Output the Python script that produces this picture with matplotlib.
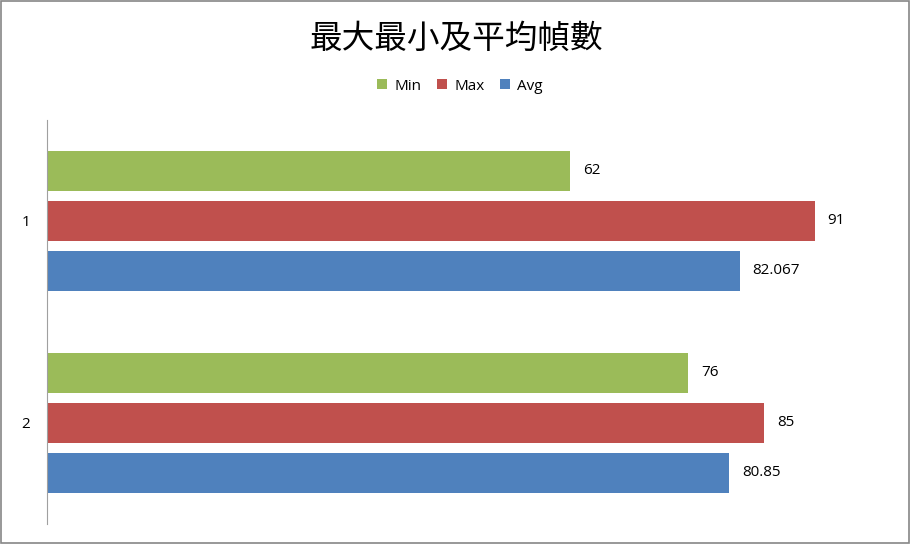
import numpy as np
import matplotlib.pyplot as plt
from matplotlib.patches import Rectangle

plt.rcParams['font.family'] = ['Open Sans', 'Noto Sans CJK TC', 'DejaVu Sans']

categories = ['1', '2']
series = ['Min', 'Max', 'Avg']
min_vals = [62, 76]
max_vals = [91, 85]
avg_vals = [82.067, 80.85]
labels = {
    'Min': ['62', '76'],
    'Max': ['91', '85'],
    'Avg': ['82.067', '80.85'],
}
colors = {'Min': '#9BBB59', 'Max': '#C0504D', 'Avg': '#4F81BD'}

fig = plt.figure(figsize=(9.12, 5.46), dpi=100)
ax = fig.add_axes([47 / 912, 22 / 546, 844 / 912, 404 / 546])

y = np.arange(len(categories))
step = 50 / 202
h = 40 / 202
for i, (name, vals) in enumerate(zip(series, [min_vals, max_vals, avg_vals])):
    bars = ax.barh(y + (i - 1) * step, vals, height=h, color=colors[name],
                   label=name)
    ax.bar_label(bars, labels=labels[name], padding=9, fontsize=11,
                 color='#000000')

ax.set_xlim(0, 100)
ax.set_ylim(len(categories) - 0.5, -0.5)
ax.set_yticks(y)
ax.set_yticklabels(categories, fontsize=11)
ax.tick_params(axis='y', length=0, pad=12)
ax.set_xticks([])
for s in ['top', 'right', 'bottom']:
    ax.spines[s].set_visible(False)
ax.spines['left'].set_color('#A0A0A0')

fig.text(0.5, 1 - 39 / 546, '最大最小及平均幀數', ha='center', va='center',
         fontsize=23.5, family=['Noto Sans CJK TC', 'DejaVu Sans'])
fig.legend(loc='center', bbox_to_anchor=(460 / 912, 1 - 86 / 546), ncol=3,
           frameon=False, fontsize=11, handlelength=0.65, handleheight=0.65,
           handletextpad=0.5, columnspacing=1.0)

fig.patches.append(Rectangle((1 / 912, 3 / 546), 908 / 912, 542 / 546,
                             transform=fig.transFigure, fill=False,
                             edgecolor='#868686', linewidth=1.2))

fig.savefig('out.png', dpi=100)
